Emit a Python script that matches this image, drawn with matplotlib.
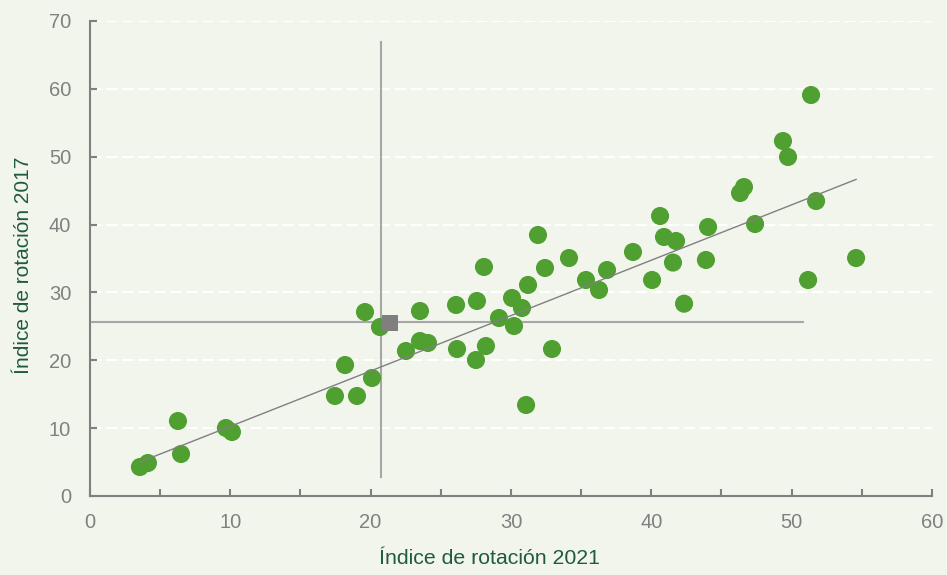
import matplotlib.pyplot as plt
import numpy as np

plt.rcParams['font.family'] = ['Liberation Sans', 'DejaVu Sans']

# indice de rotacion 2021 (x) y 2017 (y)
x2021 = [3.56, 4.13, 6.27, 6.49, 9.69, 10.12, 17.46, 18.18, 19.03, 19.60,
         20.10, 20.67, 22.52, 23.52, 23.52, 24.09, 26.09, 26.16, 27.51, 27.58,
         28.08, 28.22, 29.15, 30.08, 30.22, 30.79, 31.08, 31.22, 31.93, 32.43,
         32.93, 34.14, 35.35, 36.28, 36.85, 38.70, 40.06, 40.63, 40.91, 41.55,
         41.77, 42.34, 43.90, 44.05, 46.33, 46.61, 47.40, 49.39, 49.75, 51.18,
         51.39, 51.75, 54.60]
y2017 = [4.27, 4.86, 11.05, 6.19, 10.02, 9.43, 14.74, 19.30, 14.74, 27.11,
         17.39, 24.90, 21.37, 27.26, 22.84, 22.55, 28.15, 21.66, 20.04, 28.74,
         33.75, 22.10, 26.23, 29.18, 25.05, 27.70, 13.41, 31.10, 38.46, 33.60,
         21.66, 35.07, 31.83, 30.36, 33.30, 35.96, 31.83, 41.26, 38.17, 34.40,
         37.58, 28.34, 34.78, 39.64, 44.65, 45.53, 40.08, 52.31, 49.96, 31.83,
         59.09, 43.47, 35.07]

# promedio
media_x = 21.38
media_y = 25.5

# recta de tendencia
pend = 0.816
orden = 2.1

fondo = '#f2f5ec'
verde = '#4f9f31'
gris = '#808080'

fig = plt.figure(figsize=(9.47, 5.75), dpi=100)
fig.patch.set_facecolor(fondo)
ax = fig.add_axes([0.095, 0.1374, 0.889, 0.8261])
ax.set_facecolor(fondo)

for yy in range(10, 71, 10):
    ax.axhline(yy, color='white', lw=1.5, ls=(0, (5.5, 2.2)), zorder=1)

# cruz en el promedio
ax.plot([20.74, 20.74], [2.8, 66.9], color='#a6a6a6', lw=1.5, zorder=2)
ax.plot([0, 50.8], [25.64, 25.64], color='#a6a6a6', lw=1.5, zorder=2)

ax.scatter(x2021, y2017, s=170, color=verde, edgecolors='none', zorder=3)

xt = np.array([min(x2021), max(x2021)])
ax.plot(xt, pend * xt + orden, color=gris, lw=1, zorder=4)

ax.scatter([media_x], [media_y], marker='s', s=130, color='#7f7f7f', edgecolors='none', zorder=5)

ax.set_xlim(0, 60)
ax.set_ylim(0, 70)
ax.set_xticks(range(0, 61, 10))
ax.set_xticks(range(0, 61, 5), minor=True)
ax.set_yticks(range(0, 71, 10))
ax.tick_params(direction='in', colors=gris, labelsize=14.5, length=5, width=1.5, pad=12)
ax.tick_params(axis='x', which='minor', direction='in', color=gris, length=5, width=1.5)
ax.tick_params(axis='y', pad=13.5)

for s in ['top', 'right']:
    ax.spines[s].set_visible(False)
for s in ['left', 'bottom']:
    ax.spines[s].set_color(gris)
    ax.spines[s].set_linewidth(1.5)

ax.set_xlabel('Índice de rotación 2021', color='#1f5c3a', fontsize=15.3)
ax.set_ylabel('Índice de rotación 2017', color='#1f5c3a', fontsize=15)
ax.xaxis.set_label_coords(0.475, -0.112)
ax.yaxis.set_label_coords(-0.068, 0.486)

plt.savefig('out.png', dpi=100, facecolor=fondo)
